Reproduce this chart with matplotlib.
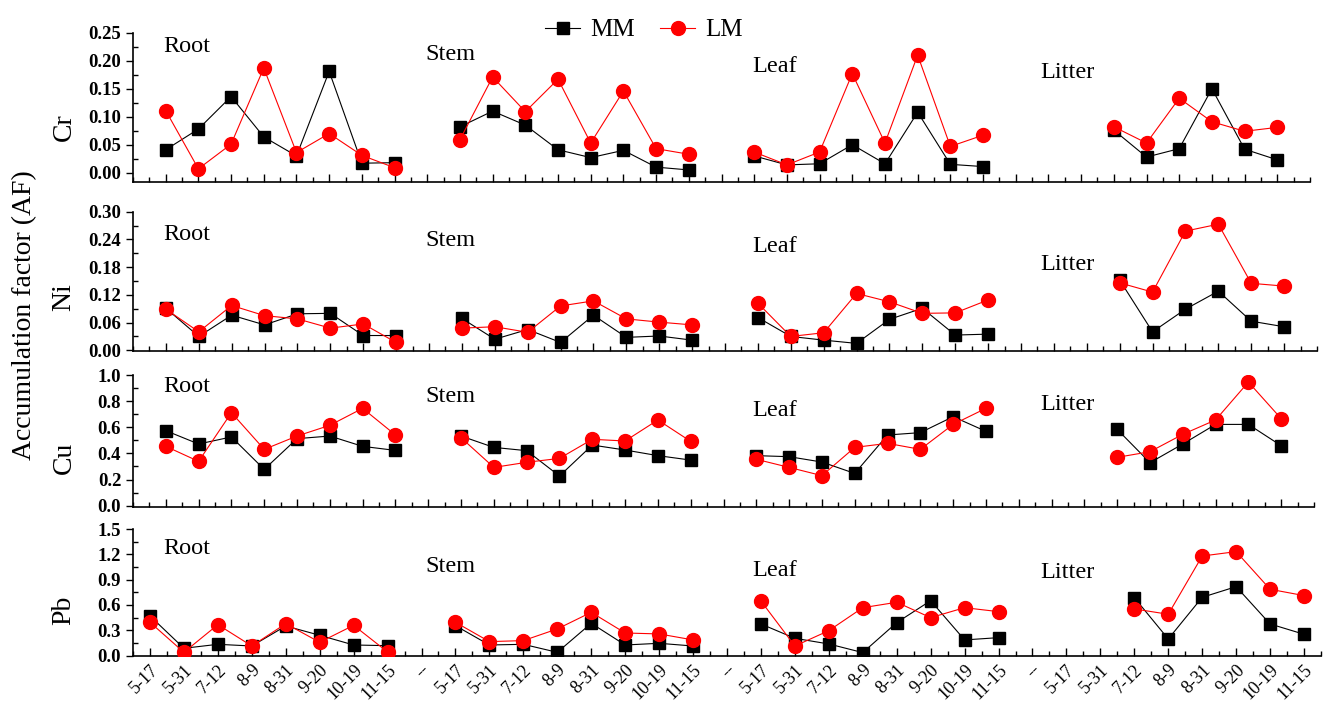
import matplotlib
matplotlib.use('Agg')
import matplotlib.pyplot as plt
from matplotlib.ticker import MultipleLocator, FixedLocator, FormatStrFormatter

plt.rcParams['font.family'] = ['Liberation Serif', 'DejaVu Serif']

# sampling dates and plant parts
dates = ['5-17', '5-31', '7-12', '8-9', '8-31', '9-20', '10-19', '11-15']
organs = ['Root', 'Stem', 'Leaf', 'Litter']
litter_dates = dates[2:]   # no litter on the first two dates

# each list: Root, Stem, Leaf (8 dates), Litter (6 dates)
cr_mm = [[0.041, 0.078, 0.136, 0.064, 0.030, 0.181, 0.017, 0.018],
         [0.082, 0.110, 0.085, 0.041, 0.027, 0.040, 0.010, 0.005],
         [0.030, 0.014, 0.016, 0.050, 0.016, 0.108, 0.015, 0.011],
         [0.076, 0.028, 0.043, 0.150, 0.042, 0.023]]
cr_lm = [[0.111, 0.007, 0.051, 0.187, 0.036, 0.070, 0.031, 0.009],
         [0.059, 0.171, 0.109, 0.167, 0.053, 0.146, 0.043, 0.033],
         [0.037, 0.014, 0.037, 0.177, 0.053, 0.210, 0.047, 0.067],
         [0.082, 0.053, 0.133, 0.091, 0.074, 0.081]]
ni_mm = [[0.091, 0.030, 0.076, 0.055, 0.079, 0.080, 0.032, 0.032],
         [0.069, 0.024, 0.045, 0.017, 0.076, 0.028, 0.031, 0.022],
         [0.071, 0.030, 0.022, 0.015, 0.067, 0.091, 0.033, 0.035],
         [0.152, 0.040, 0.089, 0.128, 0.063, 0.051]]
ni_lm = [[0.089, 0.040, 0.097, 0.075, 0.068, 0.048, 0.057, 0.017],
         [0.048, 0.051, 0.039, 0.096, 0.107, 0.068, 0.061, 0.055],
         [0.102, 0.030, 0.038, 0.123, 0.105, 0.080, 0.081, 0.109],
         [0.146, 0.126, 0.258, 0.273, 0.145, 0.139]]
cu_mm = [[0.574, 0.472, 0.526, 0.278, 0.513, 0.533, 0.454, 0.423],
         [0.533, 0.446, 0.421, 0.227, 0.464, 0.426, 0.383, 0.349],
         [0.383, 0.375, 0.334, 0.247, 0.541, 0.559, 0.681, 0.569],
         [0.584, 0.329, 0.472, 0.622, 0.622, 0.459]]
cu_lm = [[0.454, 0.339, 0.712, 0.431, 0.533, 0.615, 0.745, 0.541],
         [0.520, 0.293, 0.332, 0.362, 0.508, 0.495, 0.656, 0.492],
         [0.355, 0.293, 0.230, 0.446, 0.477, 0.431, 0.622, 0.745],
         [0.370, 0.413, 0.546, 0.656, 0.946, 0.666]]
pb_mm = [[0.470, 0.087, 0.134, 0.114, 0.351, 0.241, 0.126, 0.118],
         [0.355, 0.126, 0.134, 0.039, 0.383, 0.126, 0.146, 0.114],
         [0.375, 0.205, 0.138, 0.036, 0.391, 0.651, 0.186, 0.213],
         [0.687, 0.197, 0.691, 0.817, 0.375, 0.253]]
pb_lm = [[0.395, 0.039, 0.367, 0.114, 0.379, 0.158, 0.359, 0.043],
         [0.395, 0.166, 0.178, 0.316, 0.513, 0.268, 0.257, 0.186],
         [0.647, 0.114, 0.296, 0.568, 0.632, 0.450, 0.568, 0.521],
         [0.553, 0.490, 1.180, 1.232, 0.786, 0.711]]

W, H = 1325, 701


def rect(left, top, right, bottom):
    return [left / W, 1 - bottom / H, (right - left) / W, (bottom - top) / H]


def positions(g, n):
    # categories: 8 dates then a '--' gap, repeated per organ
    start = 9 * g + 1 + (8 - n)
    return list(range(start, start + n))


panels = [
    # name, mm, lm, ylim, major step, fmt, axes box, organ label y, ylabel y
    ('Cr', cr_mm, cr_lm, (-0.016, 0.25), 0.05, '%.2f', (133, 32.7, 1310, 181.7),
     [46, 54, 66, 73], 127),
    ('Ni', ni_mm, ni_lm, (-0.0015, 0.30), 0.06, '%.2f', (133, 211.7, 1317, 351),
     [235, 241, 247, 264], 297),
    ('Cu', cu_mm, cu_lm, (-0.01, 1.0), 0.2, '%.1f', (133, 375, 1314, 507),
     [387, 397, 410, 404], 458),
    ('Pb', pb_mm, pb_lm, (-0.008, 1.5), 0.3, '%.1f', (133, 529, 1321, 656.3),
     [548, 567, 571, 572], 610),
]
label_x = [163, 425, 752, 1040]

tick_labels = (dates + ['--']) * 4
tick_labels = tick_labels[:35]

fig = plt.figure(figsize=(W / 100, H / 100), dpi=100)

for i, (name, mm, lm, ylim, step, fmt, box, lab_y, yl_y) in enumerate(panels):
    ax = fig.add_axes(rect(*box))
    for g in range(4):
        n = len(mm[g])
        xs = positions(g, n)
        ax.plot(xs, mm[g], color='black', lw=0.8, marker='s', ms=8.5,
                mec='black', label='MM' if g == 0 else None, zorder=3)
        ax.plot(xs, lm[g], color='red', lw=0.8, marker='o', ms=10,
                mec='red', label='LM' if g == 0 else None, zorder=4)

    last = i == len(panels) - 1
    ax.set_xlim((0.5, 35.5) if last else (0, 36))
    ax.set_ylim(*ylim)
    ax.xaxis.set_major_locator(FixedLocator(range(1, 36)))
    ax.xaxis.set_minor_locator(MultipleLocator(0.5))
    ax.yaxis.set_major_locator(MultipleLocator(step))
    ax.yaxis.set_minor_locator(MultipleLocator(step / 2))
    ax.yaxis.set_major_formatter(FormatStrFormatter(fmt))
    ax.set_ylim(*ylim)

    for s in ['top', 'right']:
        ax.spines[s].set_visible(False)
    for s in ['left', 'bottom']:
        ax.spines[s].set_linewidth(1.2)

    ax.tick_params(axis='x', which='major', direction='in', length=6, width=1)
    ax.tick_params(axis='x', which='minor', direction='in', length=3.5, width=1)
    ax.tick_params(axis='y', which='major', direction='out', length=5, width=1,
                   labelsize=13.5)
    ax.tick_params(axis='y', which='minor', direction='in', length=3.5, width=1)
    for t in ax.get_yticklabels():
        t.set_fontweight('bold')

    if last:
        ax.set_xticklabels(tick_labels, rotation=45, ha='right',
                           rotation_mode='anchor', fontsize=13)
    else:
        ax.set_xticklabels([])

    for g, organ in enumerate(organs):
        fig.text(label_x[g] / W, 1 - lab_y[g] / H, organ, fontsize=17.5,
                 ha='left', va='center')
    fig.text(64 / W, 1 - yl_y / H, name, fontsize=20, rotation=90,
             ha='center', va='center')

    if i == 0:
        handles, labels = ax.get_legend_handles_labels()

fig.text(25 / W, 1 - 315 / H, 'Accumulation factor (AF)', fontsize=20,
         rotation=90, ha='center', va='center')

fig.legend(handles, labels, loc='upper center', bbox_to_anchor=(0.486, 1.005),
           ncol=2, frameon=False, fontsize=18, handlelength=1.4,
           columnspacing=1.0, handletextpad=0.4)

fig.savefig('out.png', dpi=100)
